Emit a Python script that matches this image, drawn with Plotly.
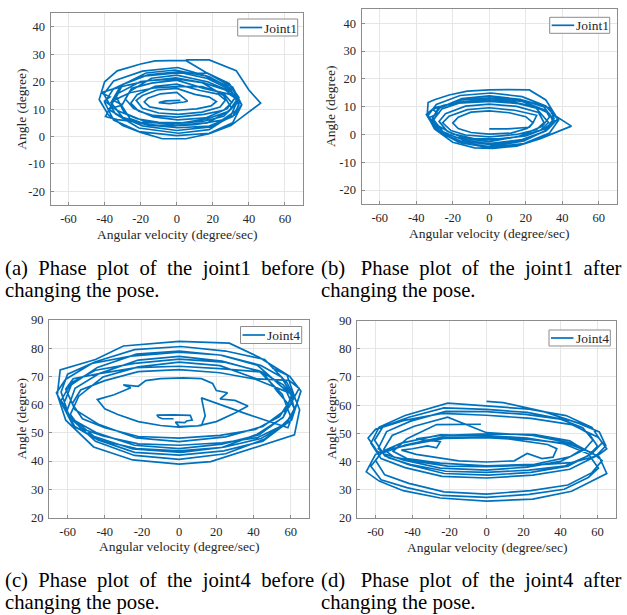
import plotly.graph_objects as go

# ---------------- data ----------------
# (a) joint1 before changing the pose
a_vel = [2, -6, -10, -4, 4, 6,
         0, -9, -16, -18, -15, -8, 0, 11, 19, 22, 18, 10,
         0, -11, -19, -22.5, -19, -10, 1, 14, 24, 27, 23, 13,
         0, -12, -22, -25.5, -21, -13, 0, 15, 26, 30.5, 26, 14,
         0, -12, -26, -35, -30, -38, -30, -18, -5, 10, 25, 33, 35, 29, 15,
         0, -14, -25, -28.5, -24, -13, 0.5, 16, 28, 32.5, 27, 15,
         -0.5, -20, -33, -39.5, -33, -20, 0, 15, 26, 30.5, 26, 14,
         0, -15, -27, -36, -42, -37, -40, -33, -22, -10, 3, 17, 28, 34, 30, 17,
         0, -14, -26, -30.5, -26, -16, 0.5, 18, 31, 34.5, 30, 17,
         0.5, -16, -30, -33.5, -29, -18, -1, 17, 29, 33.5, 28, 16,
         -1, -17, -31, -36.5, -30, -19, 0, 19, 32, 36, 31, 17,
         0, -20, -35, -40, -35, -21, 0, 18, 31, 36, 31, 18,
         0.5, -19, -35, -40.5, -34, -21, 1, 18, 30, 34.5, 29, 16,
         5, -12, -20, -33, -40, -43, -38, -30, -20, -8, 5, 18, 30, 38, 46.5, 40, 33, 18, 5]
a_ang = [13.2, 13.0, 12.4, 12.0, 12.6, 12.9,
         16.1, 15.6, 14.0, 12.6, 10.8, 10.0, 9.6, 10.1, 11.2, 12.8, 14.4, 15.4,
         17.6, 17.0, 15.0, 13.2, 10.3, 8.6, 8.1, 8.9, 10.8, 13.3, 15.5, 16.8,
         19.1, 18.3, 15.3, 12.2, 9.2, 7.7, 7.1, 8.1, 9.6, 12.4, 15.7, 18.2,
         18.2, 17.8, 16.0, 13.2, 11.5, 10.0, 7.0, 4.5, 3.8, 4.3, 6.0, 9.5, 13.0, 15.5, 17.6,
         20.6, 19.5, 17.6, 13.7, 10.3, 7.2, 6.1, 6.8, 10.2, 14.3, 17.0, 19.6,
         21.4, 20.1, 15.6, 7.3, 6.2, 5.2, 4.8, 5.6, 7.4, 10.3, 15.0, 19.7,
         21.0, 20.5, 18.8, 17.2, 16.0, 14.5, 13.0, 9.5, 6.5, 5.2, 5.0, 6.5, 9.0, 12.5, 16.5, 20.0,
         22.4, 21.3, 16.5, 11.3, 6.6, 4.2, 3.2, 3.8, 7.3, 11.5, 17.0, 21.2,
         23.6, 22.5, 19.0, 14.5, 8.6, 5.6, 4.1, 5.0, 9.3, 13.6, 18.5, 22.1,
         24.3, 23.2, 18.6, 12.4, 7.0, 3.9, 2.2, 3.5, 7.8, 11.6, 18.0, 23.1,
         23.2, 22.0, 17.5, 12.5, 6.0, 1.8, 0.3, 1.2, 5.0, 11.5, 17.2, 21.8,
         25.2, 23.9, 20.3, 15.5, 8.3, 3.1, 1.2, 2.5, 7.6, 14.2, 19.4, 23.5,
         27.8, 27.6, 26.5, 24.0, 20.0, 13.5, 8.0, 4.0, 1.5, -0.8, -0.8, 1.0, 4.0, 8.0, 12.2, 17.0, 24.0, 28.0, 28.0]

# (b) joint1 after changing the pose
b_vel = [0, 10, 22, 24,
         20, 11, 0, -10, -17, -20, -17, -10, 0, 12, 21, 24,
         26, 14, 0, -12, -22, -25.5, -21, -13, 0, 15, 26, 30,
         27, 15, 0, -13, -24, -27.5, -23, -14, 0, 16, 28, 32.5,
         25, 12, 0, -14, -25, -31, -28, -33, -29, -20, -8, 6, 20, 30, 35, 33,
         28, 16, 0.5, -17, -30, -34.5, -30, -18, 0, 16, 29, 33,
         31, 18, 0, -15, -26, -30.5, -25, -14, 0, 18, 31, 36,
         30, 17, 0, -15, -28, -31.5, -27, -16, 1, 18, 30, 35.5,
         33, 19, 0, -15, -27, -31, -27, -15, 0, 19, 33, 38,
         31, 18, 1, -16, -29, -33.5, -28, -17, 0, 19, 32, 37.5,
         31, 22, 10, 0, -12, -22, -30, -33.5, -34, -30, -20, -8, 2, 15, 28, 38, 45, 34]
b_ang = [2.0, 2.0, 2.6, 4.2,
         6.4, 7.8, 8.5, 8.0, 6.2, 4.1, 2.1, 0.7, 0.1, 0.5, 2.2, 4.2,
         6.9, 8.7, 9.6, 8.9, 6.6, 4.2, 1.4, -0.2, -0.9, 0.0, 1.8, 4.3,
         7.9, 10.1, 10.9, 10.2, 7.5, 4.7, 1.1, -1.2, -1.9, -0.8, 1.5, 4.3,
         10.0, 11.8, 12.2, 11.8, 10.5, 9.0, 7.5, 6.0, 3.5, 0.2, -1.6, -1.6, -0.5, 2.0, 4.5, 7.5,
         9.1, 11.1, 11.9, 11.3, 9.7, 7.2, 2.3, -1.1, -2.6, -0.7, 2.9, 6.3,
         8.6, 11.9, 12.9, 11.6, 9.2, 5.3, 0.7, -2.0, -3.3, -1.8, 1.2, 4.7,
         9.9, 12.6, 13.9, 12.9, 9.4, 5.2, 0.6, -2.3, -3.7, -2.0, 1.0, 5.8,
         9.5, 12.3, 13.2, 12.4, 9.6, 6.2, 1.0, -3.0, -4.7, -3.3, 0.5, 5.2,
         10.2, 13.6, 14.9, 14.0, 10.8, 6.8, 1.2, -2.7, -4.4, -2.3, 1.8, 5.6,
         12.4, 16.0, 16.1, 16.0, 15.6, 14.2, 12.5, 11.5, 7.0, 2.0, -2.8, -4.8, -5.0, -4.2, -1.5, 1.0, 3.0, 7.6]

# (c) joint4 before changing the pose
c_vel = [-3, -9, -11, -12, -3, 6, 7, 4, 3, -2, 0,
         10, 20, 30, 37, 30, 22, 26, 20, 18, 12, 2, -10, -18, -22, -30, -26, -35, -44, -40, -33, -22, -10, 0, 12, 14, 12, 35, 58.5, 62, 60,
         41, 22, 0, -22, -40, -53, -57.5, -52, -40, -22, 0, 22, 41, 54, 58.5, 53,
         45, 24, 0, -23, -43, -57, -61, -56, -43, -23, 0, 25, 45, 59, 64.5, 59,
         42, 22, 0, -22, -41, -54, -58.5, -53, -41, -22, 0, 23, 42, 55, 60, 55.5,
         43, 24, 0, -24, -45, -58, -63.5, -58, -44, -24, 0, 23, 43, 56, 61.5, 56,
         44, 23, 0, -22, -43, -56, -60.5, -56, -42, -23, 0, 24, 44, 57, 62, 57.5,
         42, 22, 0, -26, -47, -61, -66, -60, -46, -25, 1, 23, 42, 56, 60.5, 55,
         44, 23, 0, -23, -44, -58, -62.5, -57, -44, -24, 0, 24, 45, 58, 63.5, 58,
         46, 25, 1, -24, -45, -60, -63.5, -59, -45, -24, 0, 25, 46, 60.5, 65.5, 59.5,
         43, 27, 0, -30, -45, -64, -65.5, -61, -46, -25, 0, 17, 42, 62, 64.8, 62.5, 58, 50]
c_ang = [55.0, 55.0, 55.5, 56.3, 56.4, 56.2, 54.5, 54.2, 53.6, 53.8, 52.2,
         52.5, 54.0, 57.0, 59.5, 61.5, 62.0, 64.2, 65.0, 67.5, 69.2, 69.5, 69.2, 68.5, 66.5, 67.0, 66.0, 63.5, 61.8, 58.5, 56.5, 54.0, 52.6, 52.0, 52.6, 56.0, 62.4, 57.0, 51.8, 58.0, 64.0,
         69.0, 71.3, 72.4, 71.7, 68.5, 65.2, 60.3, 55.0, 51.8, 48.7, 48.1, 49.1, 51.2, 55.8, 60.4, 64.5,
         71.5, 72.7, 73.6, 73.1, 71.0, 69.2, 65.5, 58.2, 52.9, 48.2, 46.9, 48.6, 52.3, 59.0, 65.8, 68.6,
         69.1, 73.8, 75.1, 73.4, 69.8, 63.0, 56.5, 51.6, 48.9, 46.1, 45.6, 46.5, 48.3, 52.4, 55.6, 63.6,
         72.0, 75.1, 76.1, 74.6, 72.2, 67.8, 61.5, 55.0, 49.9, 45.6, 44.4, 46.0, 49.3, 55.6, 62.4, 67.0,
         71.7, 75.4, 77.1, 75.8, 71.0, 65.8, 57.5, 52.0, 47.3, 44.4, 43.6, 44.9, 48.0, 52.8, 58.5, 65.0,
         74.0, 77.6, 78.6, 77.2, 74.6, 69.0, 64.2, 56.5, 48.8, 44.3, 43.1, 44.8, 49.5, 55.5, 63.5, 69.8,
         73.9, 77.5, 79.0, 77.9, 73.2, 67.0, 59.5, 52.6, 47.6, 43.1, 42.1, 43.6, 47.0, 53.5, 60.5, 67.8,
         76.0, 79.0, 80.6, 79.5, 75.2, 70.8, 64.5, 55.5, 47.0, 42.0, 40.6, 42.6, 47.8, 54.6, 64.8, 70.0,
         76.8, 81.8, 82.4, 80.8, 76.0, 72.3, 63.5, 54.5, 45.0, 40.4, 38.9, 39.8, 45.2, 49.3, 58.2, 62.0, 70.5, 73.0]

# (d) joint4 after changing the pose
d_vel = [-3, -27, -43, -50.5, -43, -25, 0, 26, 45, 52, 45, 26, 0, -25, -38,
         -25, -27, -32, -40, -46, -38, -28, -15, 0, 15, 22, 30, 36, 38, 33, 22, 12, 0, -15,
         -23, -42, -56, -60, -55, -42, -23, 0, 24, 44, 57, 62.5, 57, 44, 23, 0,
         -24, -44, -57, -62.5, -57, -43, -24, 0, 23, 42, 55, 60.5, 55, 42, 22, 0,
         -25, -46, -60, -65, -58, -45, -25, 0, 25, 46, 58, 65, 61, 47, 25, 0,
         -21, -39, -51, -55.5, -50, -39, -21, 0, 25, 46, 60, 65, 60.5, 46, 24, 0,
         -24, -45, -60, -64, -59, -45, -25, 0, 22, 40, 53, 57.5, 52, 40, 21, 0,
         -22, -41, -54, -58.5, -53, -41, -22, 0, 23, 42, 55, 60, 55.5, 42, 22, 0,
         -23, -42, -56, -60.5, -55, -42, -23, 1, 24, 44, 57, 62.5, 57, 43, 23, 0,
         -21, -44, -58, -62.5, -57, -44, -24, 0, 25, 45, 59, 64.5, 61, 50, 31, 9, 0]
d_ang = [53.2, 53.1, 48.1, 43.6, 41.0, 39.4, 38.4, 39.0, 41.6, 44.4, 47.3, 49.5, 49.8, 49.2, 48.0,
         47.0, 44.8, 45.5, 44.5, 44.0, 42.5, 41.5, 40.2, 39.8, 40.2, 42.8, 41.0, 41.5, 44.5, 46.0, 47.0, 48.0, 48.4, 48.4,
         48.2, 45.9, 43.7, 40.4, 35.2, 32.2, 29.2, 28.4, 29.6, 31.6, 36.0, 40.3, 43.1, 46.3, 47.8, 48.7,
         48.6, 45.8, 42.8, 38.3, 33.5, 30.7, 27.9, 27.2, 28.3, 30.1, 34.3, 37.6, 42.7, 46.2, 48.3, 49.2,
         49.4, 46.5, 42.5, 36.3, 33.0, 29.6, 27.0, 25.9, 26.6, 29.4, 33.2, 35.7, 41.5, 46.3, 49.2, 50.2,
         55.7, 52.5, 49.2, 44.3, 41.5, 40.1, 38.3, 38.1, 38.7, 39.6, 42.0, 44.5, 48.5, 53.1, 55.3, 56.4,
         57.1, 54.5, 51.4, 48.3, 43.5, 40.5, 37.6, 36.9, 38.0, 40.0, 44.2, 47.6, 52.0, 55.0, 56.7, 57.7,
         57.8, 54.3, 50.6, 44.6, 41.3, 38.9, 36.5, 36.1, 36.9, 38.3, 42.0, 45.4, 49.8, 54.9, 57.4, 58.5,
         59.0, 55.7, 52.3, 47.5, 42.0, 38.8, 35.7, 35.1, 36.1, 38.3, 42.8, 46.6, 52.1, 56.3, 58.6, 59.7,
         60.7, 56.3, 52.2, 46.5, 41.0, 37.8, 34.7, 34.1, 35.1, 37.2, 41.8, 45.5, 50.5, 53.5, 57.7, 60.9, 61.3]

series_names = ["Joint1", "Joint1", "Joint4", "Joint4"]
x_tick_vals = [-60, -40, -20, 0, 20, 40, 60]
x_tick_text = ["-60", "-40", "-20", "0", "20", "40", "60"]
y_tick_vals_joint1 = [-20, -10, 0, 10, 20, 30, 40]
y_tick_text_joint1 = ["-20", "-10", "0", "10", "20", "30", "40"]
y_tick_vals_joint4 = [20, 30, 40, 50, 60, 70, 80, 90]
y_tick_text_joint4 = ["20", "30", "40", "50", "60", "70", "80", "90"]
x_title = "Angular velocity (degree/sec)"
y_title = "Angle (degree)"
caption_line1 = ["(a) Phase plot of the joint1 before",
                 "(b) Phase plot of the joint1 after",
                 "(c) Phase plot of the joint4 before",
                 "(d) Phase plot of the joint4 after"]
caption_line2 = "changing the pose."

# ---------------- layout helpers ----------------
W, H = 627, 615
FONT = "Liberation Serif"
BLUE = "#0072BD"
AXC = "#8c8c8c"
TXT = "#262626"


def fx(p):
    return p / W


def fy(p):
    return 1 - p / H


# pixel boxes: left, right, top, bottom
boxes = [(50.5, 303, 13.3, 205), (361.5, 617, 9.3, 204),
         (49, 309.3, 320, 517.5), (357, 616, 320.7, 517.7)]
legend_boxes = [(237.7, 297.7, 19, 36), (549.7, 609.7, 17.3, 33.3),
                (240.5, 301.7, 326.5, 343.5), (549, 610.3, 330, 346)]
xtitle_y = [234, 233.5, 546.5, 547]
ytitle_x = [20.7, 330.3, 21.7, 331.3]
caption_x = [3.3, 319]
caption_y = [279.5, 591.5]   # centre of the two-line caption block
CAP_SIZE = 20.7              # glyph size
CAP_LEAD = 17                # base size that sets line spacing (1.3 * 17 px)

fig = go.Figure()
data = [(a_vel, a_ang), (b_vel, b_ang), (c_vel, c_ang), (d_vel, d_ang)]
annotations = []
shapes = []
for i, ((xs, ys), box) in enumerate(zip(data, boxes)):
    n = "" if i == 0 else str(i + 1)
    fig.add_trace(go.Scatter(x=xs, y=ys, mode="lines", name=series_names[i],
                             line=dict(color=BLUE, width=1.7),
                             xaxis="x" + n, yaxis="y" + n,
                             showlegend=False, hoverinfo="skip"))
    l, r, t, b = box
    joint1 = i < 2
    common = dict(showline=True, mirror=True, linecolor=AXC, linewidth=1,
                  ticks="inside", ticklen=3, tickcolor=AXC, showgrid=True,
                  gridcolor="#e6e6e6", gridwidth=1, zeroline=False, automargin=False,
                  tickfont=dict(family=FONT, size=12.5, color=TXT))
    fig.update_layout({
        "xaxis" + n: dict(domain=[fx(l), fx(r)], range=[-70, 70], anchor="y" + n,
                          tickmode="array", tickvals=x_tick_vals, ticktext=x_tick_text,
                          ticklabelstandoff=2, **common),
        "yaxis" + n: dict(domain=[fy(b), fy(t)],
                          range=[-25, 45] if joint1 else [20, 90], anchor="x" + n,
                          tickmode="array",
                          tickvals=y_tick_vals_joint1 if joint1 else y_tick_vals_joint4,
                          ticktext=y_tick_text_joint1 if joint1 else y_tick_text_joint4,
                          ticklabelstandoff=2, **common),
    })
    annotations.append(dict(text=x_title, x=fx((l + r) / 2), y=fy(xtitle_y[i]),
                            xref="paper", yref="paper", showarrow=False,
                            xanchor="center", yanchor="middle",
                            font=dict(family=FONT, size=13.5, color=TXT)))
    annotations.append(dict(text=y_title, x=fx(ytitle_x[i]), y=fy((t + b) / 2),
                            xref="paper", yref="paper", showarrow=False, textangle=-90,
                            xanchor="center", yanchor="middle",
                            font=dict(family=FONT, size=13.5, color=TXT)))
    # legend box (drawn like the MATLAB legend)
    lx0, lx1, ly0, ly1 = legend_boxes[i]
    ym = (ly0 + ly1) / 2
    shapes.append(dict(type="rect", xref="paper", yref="paper",
                       x0=fx(lx0), x1=fx(lx1), y0=fy(ly1), y1=fy(ly0),
                       line=dict(color=AXC, width=1), fillcolor="white", layer="above"))
    shapes.append(dict(type="line", xref="paper", yref="paper",
                       x0=fx(lx0 + 2), x1=fx(lx0 + 24.5), y0=fy(ym), y1=fy(ym),
                       line=dict(color=BLUE, width=1.7), layer="above"))
    annotations.append(dict(text=series_names[i], x=fx(lx0 + 24.5), y=fy(ym + 0.5),
                            xref="paper", yref="paper", showarrow=False,
                            xanchor="left", yanchor="middle",
                            font=dict(family=FONT, size=13.5, color=TXT)))

span = '<span style="font-size:%.1fpx">' % CAP_SIZE
for i, line1 in enumerate(caption_line1):
    row, col = i // 2, i % 2
    words = line1.split(" ")
    first_gap = "&nbsp; " if col == 0 else "&nbsp;&nbsp; "
    justified = words[0] + first_gap + "&nbsp; ".join(words[1:])
    text = span + justified + "</span><br>" + span + caption_line2 + "</span>"
    annotations.append(dict(text=text, x=fx(caption_x[col]), y=fy(caption_y[row]),
                            xref="paper", yref="paper", showarrow=False, xanchor="left",
                            yanchor="middle", align="left",
                            font=dict(family=FONT, size=CAP_LEAD, color="black")))

fig.update_layout(width=W, height=H, margin=dict(l=0, r=0, t=0, b=0, autoexpand=False),
                  paper_bgcolor="white", plot_bgcolor="white",
                  annotations=annotations, shapes=shapes, showlegend=False)
fig.write_html("out.html")
